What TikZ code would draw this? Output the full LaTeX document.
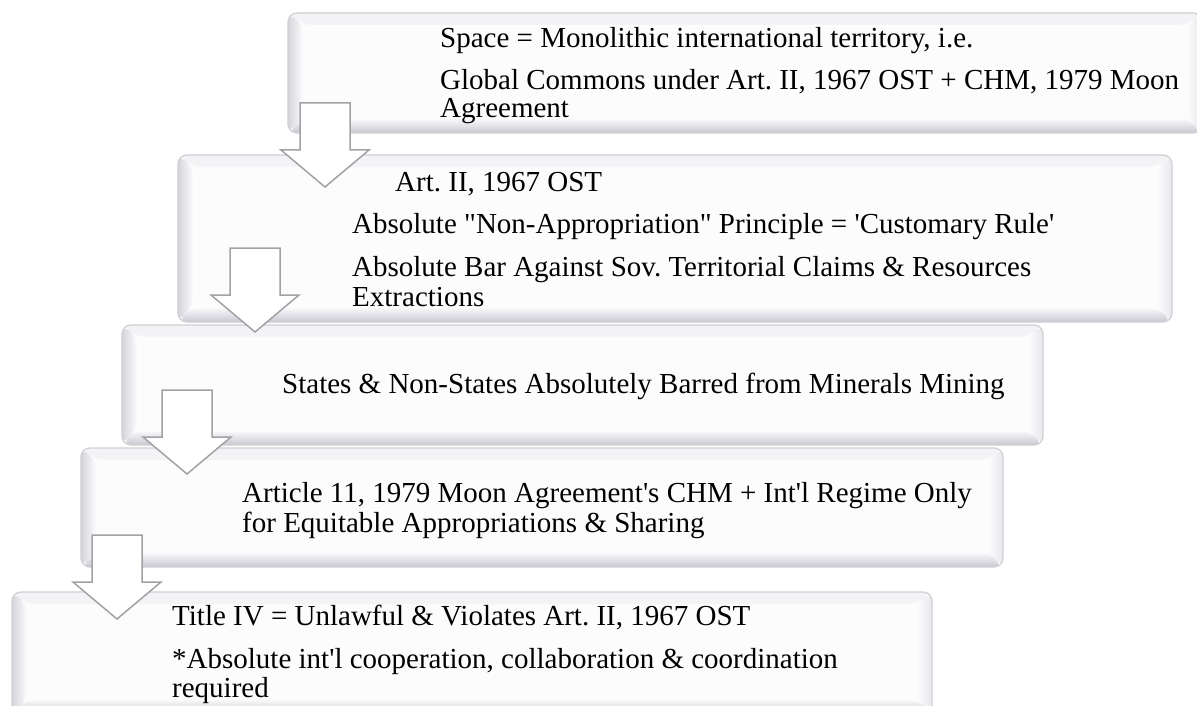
\documentclass[tikz,border=0pt]{standalone}
\usepackage{fontspec}
\setmainfont{Liberation Serif}[Ligatures=TeXOff]
\frenchspacing
\definecolor{boxfill}{HTML}{FCFCFD}
\definecolor{boxline}{HTML}{D0D0D5}
\definecolor{bevleft}{HTML}{D4D4DB}
\definecolor{bevtop}{HTML}{F3F3F6}
\definecolor{bevright}{HTML}{E8E8ED}
\definecolor{bevbot}{HTML}{C8C8D2}
\definecolor{arrline}{HTML}{A2A2A6}
\tikzset{
  bevelbox/.style={draw=boxline, line width=1.3pt, rounded corners=9pt, fill=boxfill,
    inner sep=0pt, outer sep=0pt,
    path picture={
      \path[top color=bevtop, bottom color=boxfill]
        (path picture bounding box.north west) -- (path picture bounding box.north east)
        -- ([shift={(-15pt,-12pt)}]path picture bounding box.north east)
        -- ([shift={(15pt,-12pt)}]path picture bounding box.north west) -- cycle;
      \path[left color=boxfill, right color=bevright]
        (path picture bounding box.north east) -- (path picture bounding box.south east)
        -- ([shift={(-15pt,15pt)}]path picture bounding box.south east)
        -- ([shift={(-15pt,-12pt)}]path picture bounding box.north east) -- cycle;
      \path[left color=bevleft, right color=boxfill]
        (path picture bounding box.north west)
        -- ([shift={(15pt,-12pt)}]path picture bounding box.north west)
        -- ([shift={(15pt,15pt)}]path picture bounding box.south west)
        -- (path picture bounding box.south west) -- cycle;
      \path[top color=boxfill, bottom color=bevbot]
        (path picture bounding box.south west)
        -- ([shift={(15pt,15pt)}]path picture bounding box.south west)
        -- ([shift={(-15pt,15pt)}]path picture bounding box.south east)
        -- (path picture bounding box.south east) -- cycle;
    }},
  txt/.style={anchor=base west, inner sep=0pt, font=\fontsize{29}{29}\selectfont, text=black},
  blockarrow/.style={draw=arrline, line width=1.5pt, fill=white, line join=miter}
}
\newcommand{\downblock}[2]{%
  \path[blockarrow] (#1-25,#2) -- (#1+25,#2) -- (#1+25,#2+47) -- (#1+44,#2+47)
    -- (#1,#2+84) -- (#1-44,#2+47) -- (#1-25,#2+47) -- cycle;}
\begin{document}
\begin{tikzpicture}[x=1pt, y=-1pt]
\useasboundingbox (0,0) rectangle (1197,706);
\fill[white] (0,0) rectangle (1197,706);

% boxes
\node[bevelbox, minimum width=914pt, minimum height=120pt] (b1) at (288+457,73) {};
\node[bevelbox, minimum width=994pt, minimum height=167pt] (b2) at (178+497,238.5) {};
\node[bevelbox, minimum width=921pt, minimum height=120pt] (b3) at (122+460.5,385) {};
\node[bevelbox, minimum width=922pt, minimum height=119pt] (b4) at (81+461,507.5) {};
\node[bevelbox, minimum width=920pt, minimum height=122pt] (b5) at (12+460,653) {};

% arrows
\downblock{325}{103}
\downblock{255}{248}
\downblock{187}{390}
\downblock{117}{535}

% texts
\node[txt] (t1a) at (440,48) {Space = Monolithic international territory, i.e.};
\node[txt] (t1b) at (440,90) {Global Commons under Art. II, 1967 OST + CHM, 1979 Moon};
\node[txt] (t1c) at (440,118) {Agreement};

\node[txt] (t2a) at (395,192) {Art. II, 1967 OST};
\node[txt] (t2b) at (352,233) {Absolute "Non-Appropriation" Principle = 'Customary Rule'};
\node[txt] (t2c) at (352,276) {Absolute Bar Against Sov. Territorial Claims \& Resources};
\node[txt] (t2d) at (352,306) {Extractions};

\node[txt] (t3a) at (282,393) {States \& Non-States Absolutely Barred from Minerals Mining};

\node[txt] (t4a) at (242,502) {Article 11, 1979 Moon Agreement's CHM + Int'l Regime Only};
\node[txt] (t4b) at (242,532) {for Equitable Appropriations \& Sharing};

\node[txt] (t5a) at (172,625) {Title IV = Unlawful \& Violates Art. II, 1967 OST};
\node[txt] (t5b) at (172,668) {*Absolute int'l cooperation, collaboration \& coordination};
\node[txt] (t5c) at (172,697) {required};
\end{tikzpicture}
\end{document}
